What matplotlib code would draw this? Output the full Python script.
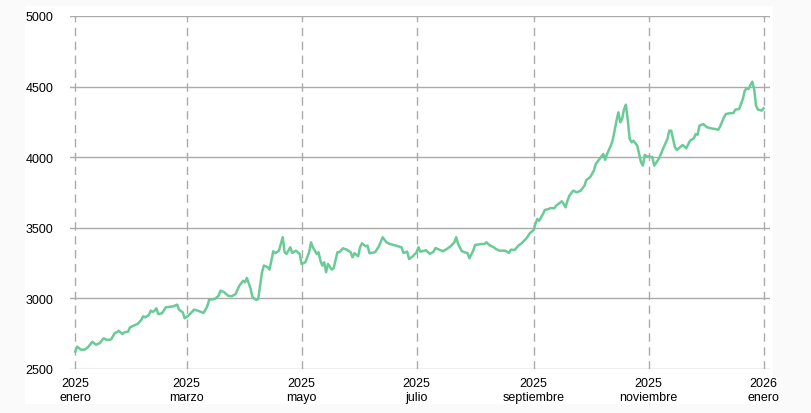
import numpy as np
import pandas as pd
import matplotlib
matplotlib.use('Agg')
import matplotlib.pyplot as plt
from matplotlib.patches import Rectangle

plt.rcParams['font.family'] = ['Liberation Sans', 'DejaVu Sans']

# days since 2025-01-01 and price
days = [0, 1, 2, 3, 5, 7, 9, 11, 13, 15, 17, 19, 21, 22, 23, 25, 26, 28, 29, 31,
        33, 35, 36, 37, 39, 40, 41, 42, 43, 44, 46, 48, 50, 52, 54, 55, 57, 58, 60, 63,
        65, 68, 70, 71, 74, 76, 77, 79, 81, 83, 85, 87, 89, 90, 91, 93, 94, 96, 97, 99,
        100, 102, 103, 105, 106, 108, 110, 111, 112, 114, 115, 117, 119, 120, 122, 124, 125, 126, 128, 129,
        130, 131, 132, 133, 134, 136, 137, 139, 140, 142, 144, 146, 147, 148, 150, 151, 152, 154, 155, 156,
        159, 161, 163, 165, 167, 170, 173, 174, 176, 177, 179, 181, 182, 183, 185, 186, 188, 190, 191, 193,
        195, 197, 199, 201, 202, 203, 205, 208, 209, 211, 212, 215, 217, 218, 220, 222, 223, 225, 228, 230,
        231, 233, 235, 237, 239, 240, 241, 243, 244, 245, 246, 248, 249, 251, 252, 254, 255, 258, 259, 260,
        261, 262, 264, 266, 268, 270, 271, 273, 275, 276, 278, 280, 281, 282, 284, 285, 286, 287, 288, 289,
        290, 291, 292, 293, 294, 295, 296, 298, 299, 300, 301, 302, 303, 304, 306, 307, 309, 310, 312, 314,
        315, 316, 317, 318, 319, 320, 322, 323, 324, 326, 328, 329, 330, 331, 333, 335, 337, 339, 341, 342,
        344, 345, 347, 349, 350, 352, 354, 355, 356, 357, 358, 359, 360, 361, 362, 363, 364, 365]
price = [2623, 2658, 2647, 2637, 2637, 2658, 2693, 2672, 2684, 2717, 2705, 2710, 2755, 2760, 2771, 2748, 2760, 2764, 2795, 2807,
         2819, 2847, 2873, 2866, 2882, 2913, 2904, 2913, 2930, 2888, 2895, 2937, 2940, 2944, 2956, 2920, 2901, 2859, 2878, 2920,
         2913, 2897, 2944, 2991, 2996, 3019, 3055, 3043, 3019, 3015, 3031, 3090, 3125, 3114, 3145, 3067, 3008, 2989, 2996, 3185,
         3233, 3221, 3204, 3334, 3320, 3338, 3433, 3327, 3315, 3362, 3322, 3338, 3315, 3244, 3256, 3327, 3397, 3362, 3315, 3327,
         3267, 3232, 3256, 3185, 3244, 3204, 3213, 3327, 3327, 3355, 3345, 3327, 3291, 3320, 3298, 3362, 3390, 3369, 3374, 3320,
         3327, 3369, 3433, 3397, 3385, 3374, 3362, 3322, 3331, 3279, 3298, 3327, 3362, 3331, 3338, 3341, 3315, 3331, 3357, 3345,
         3334, 3350, 3369, 3397, 3433, 3385, 3334, 3320, 3284, 3338, 3378, 3385, 3385, 3397, 3374, 3362, 3350, 3338, 3338, 3322,
         3345, 3343, 3374, 3394, 3422, 3440, 3461, 3484, 3527, 3562, 3550, 3598, 3626, 3633, 3640, 3638, 3657, 3688, 3669, 3645,
         3692, 3727, 3763, 3751, 3763, 3798, 3839, 3858, 3905, 3952, 3988, 4023, 3981, 4023, 4082, 4122, 4188, 4259, 4318, 4247,
         4271, 4341, 4372, 4259, 4129, 4106, 4117, 4082, 4023, 3964, 3940, 4017, 4004, 4006, 4001, 3940, 3980, 4005, 4070, 4129,
         4188, 4188, 4129, 4070, 4051, 4063, 4086, 4077, 4063, 4117, 4134, 4164, 4159, 4223, 4235, 4212, 4205, 4200, 4195, 4219,
         4283, 4306, 4311, 4313, 4337, 4341, 4412, 4471, 4488, 4483, 4511, 4535, 4483, 4365, 4337, 4334, 4330, 4346]

tick_dates = ['2025-01-01', '2025-03-01', '2025-05-01', '2025-07-01',
              '2025-09-01', '2025-11-01', '2026-01-01']
tick_labels = ['2025\nenero', '2025\nmarzo', '2025\nmayo', '2025\njulio',
               '2025\nseptiembre', '2025\nnoviembre', '2026\nenero']
y_ticks = [2500, 3000, 3500, 4000, 4500, 5000]

dates = pd.Timestamp('2025-01-01') + pd.to_timedelta(days, unit='D')

fig = plt.figure(figsize=(8.11, 4.14), dpi=100, facecolor='#fafafa')
fig.patches.append(Rectangle((25/811, 1-405/414), 748/811, 398/414,
                             transform=fig.transFigure, facecolor='white',
                             edgecolor='none', zorder=-1))
ax = fig.add_axes([70/811, 1-370/414, 700/811, 353/414])
ax.set_facecolor('white')

ax.plot(dates, price, color='#6acb97', lw=1.8, zorder=3)

ax.set_ylim(2500, 5000)
ax.set_xlim(pd.Timestamp('2025-01-01') - pd.Timedelta(days=2.8),
            pd.Timestamp('2025-01-01') + pd.Timedelta(days=368.4))
ax.set_yticks(y_ticks)
ax.set_yticklabels([str(v) for v in y_ticks])
ax.set_xticks(pd.to_datetime(tick_dates))
ax.set_xticklabels(tick_labels, linespacing=1.2)

ax.grid(axis='y', color='#aaaaaa', lw=1, ls='-')
ax.grid(axis='x', color='#aaaaaa', lw=1, ls=(0, (6, 4)))
for s in ax.spines.values():
    s.set_visible(False)
ax.tick_params(axis='both', length=0, labelsize=9, colors='black')
ax.tick_params(axis='y', pad=12)
ax.tick_params(axis='x', pad=6)

fig.savefig('out.png', dpi=100, facecolor=fig.get_facecolor())
